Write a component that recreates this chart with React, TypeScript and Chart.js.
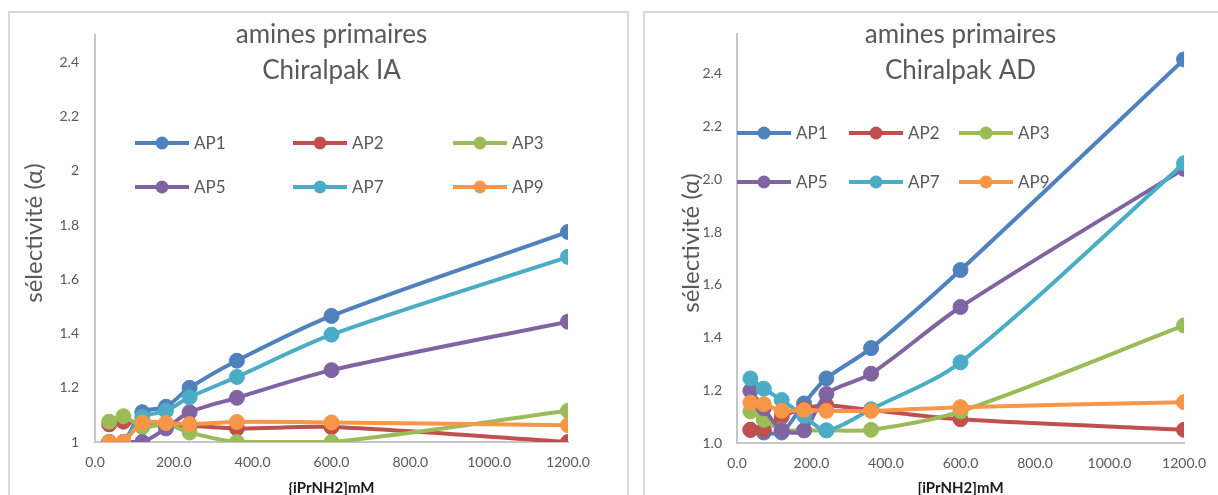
import React, { useEffect, useRef } from "react";
import { Chart, registerables } from "chart.js";

Chart.register(...registerables);

const FONT = "Lato, 'DejaVu Sans', sans-serif";

// Shared categories / x values ([iPrNH2] mM)
const xValues = [36, 72, 120, 180, 240, 360, 600, 1200];
const seriesNames = ["AP1", "AP2", "AP3", "AP5", "AP7", "AP9"];
const seriesColors = ["#4F81BD", "#C0504D", "#9BBB59", "#8064A2", "#4BACC6", "#F79646"];

// Chiralpak IA
const iaAP1 = [1.0, 1.0, 1.11, 1.13, 1.2, 1.3, 1.465, 1.775];
const iaAP2 = [1.065, 1.075, 1.065, 1.06, 1.06, 1.05, 1.055, 1.0];
const iaAP3 = [1.075, 1.095, 1.055, 1.065, 1.035, 1.0, 1.0, 1.115];
const iaAP5 = [1.0, 1.0, 1.0, 1.05, 1.11, 1.163, 1.265, 1.444];
const iaAP7 = [1.0, 1.0, 1.092, 1.115, 1.165, 1.24, 1.396, 1.683];
const iaAP9 = [1.0, 1.0, 1.072, 1.07, 1.066, 1.074, 1.072, 1.062];

// Chiralpak AD
const adAP1 = [1.05, 1.04, 1.04, 1.15, 1.245, 1.36, 1.656, 2.455];
const adAP2 = [1.05, 1.05, 1.1, 1.13, 1.142, 1.125, 1.09, 1.05];
const adAP3 = [1.12, 1.088, 1.05, 1.048, 1.048, 1.05, 1.12, 1.446];
const adAP5 = [1.198, 1.132, 1.048, 1.048, 1.186, 1.263, 1.516, 2.04];
const adAP7 = [1.245, 1.206, 1.163, 1.103, 1.048, 1.128, 1.306, 2.061];
const adAP9 = [1.153, 1.147, 1.122, 1.125, 1.122, 1.122, 1.136, 1.155];

// Tick / axis definitions
const xTickStep = 200;
const xMin = 0;
const xMax = 1200;
const yMin = 1;
const yStep = 0.2;
const iaYMax = 2.5;
const adYMax = 2.55;

const titleLinesIA = ["amines primaires", "Chiralpak IA"];
const titleLinesAD = ["amines primaires", "Chiralpak AD"];
const yTitle = "sélectivité (α)";
const xTitleIA = "{iPrNH2]mM";
const xTitleAD = "[iPrNH2]mM";

type Panel = {
  series: number[][];
  titleLines: string[];
  xTitle: string;
  yMax: number;
  yLabel: (v: number) => string;
  width: number;
  height: number;
  padTop: number;
  padRight: number;
  yAxisWidth: number;
  xAxisHeight: number;
  yTickPad: number;
  legendX: number[];
  legendY: number[];
  yTitleX: number;
  yTitleY: number;
};

function makeOverlay(p: Panel) {
  return {
    id: "overlay",
    beforeDatasetsDraw(chart: any) {
      const { ctx, chartArea } = chart;
      ctx.save();
      const cx = (chartArea.left + chartArea.right) / 2;
      ctx.fillStyle = "#595959";
      ctx.font = `26px ${FONT}`;
      ctx.textAlign = "center";
      ctx.textBaseline = "alphabetic";
      ctx.fillText(p.titleLines[0], cx, 32);
      ctx.fillText(p.titleLines[1], cx, 68);

      chart.data.datasets.forEach((ds: any, i: number) => {
        const col = i % 3;
        const row = Math.floor(i / 3);
        const x = p.legendX[col];
        const y = p.legendY[row];
        ctx.strokeStyle = ds.borderColor;
        ctx.lineWidth = 4;
        ctx.lineCap = "butt";
        ctx.beginPath();
        ctx.moveTo(x, y);
        ctx.lineTo(x + 54, y);
        ctx.stroke();
        ctx.beginPath();
        ctx.arc(x + 27, y, 6.5, 0, Math.PI * 2);
        ctx.fillStyle = ds.backgroundColor;
        ctx.fill();
        ctx.fillStyle = "#595959";
        ctx.font = `17px ${FONT}`;
        ctx.textAlign = "left";
        ctx.textBaseline = "middle";
        ctx.fillText(ds.label, x + 59, y + 1);
      });
      ctx.restore();
    },
    afterDraw(chart: any) {
      const { ctx, chartArea } = chart;
      ctx.save();
      ctx.translate(p.yTitleX, p.yTitleY);
      ctx.rotate(-Math.PI / 2);
      ctx.fillStyle = "#595959";
      ctx.font = `24px ${FONT}`;
      ctx.textAlign = "center";
      ctx.textBaseline = "middle";
      ctx.fillText(yTitle, 0, 0);
      ctx.restore();
      ctx.save();
      ctx.fillStyle = "#1a1a1a";
      ctx.font = `bold 15px ${FONT}`;
      ctx.textAlign = "center";
      ctx.textBaseline = "middle";
      ctx.fillText(p.xTitle, (chartArea.left + chartArea.right) / 2, 477);
      ctx.restore();
    },
  };
}

function ChartPanel({ p, left, top }: { p: Panel; left: number; top: number }) {
  const ref = useRef<HTMLCanvasElement | null>(null);
  useEffect(() => {
    if (!ref.current) return;
    const datasets = p.series.map((vals, i) => ({
      label: seriesNames[i],
      data: xValues.map((x, j) => ({ x, y: vals[j] })),
      borderColor: seriesColors[i],
      backgroundColor: seriesColors[i],
      pointBackgroundColor: seriesColors[i],
      pointBorderColor: seriesColors[i],
      borderWidth: 4,
      pointRadius: 7.5,
      pointBorderWidth: 1,
      tension: 0.3,
      order: seriesNames.length - i,
    }));
    const chart = new Chart(ref.current, {
      type: "line",
      data: { datasets },
      options: {
        responsive: false,
        animation: false,
        layout: { padding: { left: 0, top: p.padTop, right: p.padRight, bottom: 0 } },
        plugins: {
          legend: { display: false },
          title: { display: false },
          tooltip: { enabled: false },
        },
        scales: {
          x: {
            type: "linear",
            min: xMin,
            max: xMax,
            grid: { display: false, drawTicks: false },
            border: { display: true, color: "#c6c6c6", width: 2 },
            ticks: {
              stepSize: xTickStep,
              color: "#595959",
              font: { family: FONT, size: 14 },
              padding: 12,
              maxRotation: 0,
              autoSkip: false,
              callback: (v: any) => Number(v).toFixed(1),
            },
            afterFit: (s: any) => {
              s.height = p.xAxisHeight;
            },
          },
          y: {
            type: "linear",
            min: yMin,
            max: p.yMax,
            bounds: "data",
            grid: { display: false, drawTicks: false },
            border: { display: true, color: "#c6c6c6", width: 2 },
            ticks: {
              stepSize: yStep,
              includeBounds: false,
              autoSkip: false,
              color: "#595959",
              font: { family: FONT, size: 14 },
              padding: p.yTickPad,
              callback: (v: any) => p.yLabel(Number(v)),
            },
            afterBuildTicks: (s: any) => {
              s.ticks = s.ticks.filter((t: any) => {
                const k = (t.value - yMin) / yStep;
                return Math.abs(k - Math.round(k)) < 1e-6;
              });
            },
            afterFit: (s: any) => {
              s.width = p.yAxisWidth;
            },
          },
        },
      } as any,
      plugins: [makeOverlay(p)],
    });
    return () => chart.destroy();
  }, []);
  return (
    <canvas
      ref={ref}
      width={p.width}
      height={p.height}
      style={{ position: "absolute", left, top, width: p.width, height: p.height }}
    />
  );
}

const panelIA: Panel = {
  series: [iaAP1, iaAP2, iaAP3, iaAP5, iaAP7, iaAP9],
  titleLines: titleLinesIA,
  xTitle: xTitleIA,
  yMax: iaYMax,
  yLabel: (v) => String(Number(v.toFixed(1))),
  width: 620,
  height: 484,
  padTop: 14,
  padRight: 60,
  yAxisWidth: 87,
  xAxisHeight: 53,
  yTickPad: 16,
  legendX: [127, 285, 445],
  legendY: [132, 176],
  yTitleX: 26,
  yTitleY: 222,
};

const panelAD: Panel = {
  series: [adAP1, adAP2, adAP3, adAP5, adAP7, adAP9],
  titleLines: titleLinesAD,
  xTitle: xTitleAD,
  yMax: adYMax,
  yLabel: (v) => v.toFixed(1),
  width: 575,
  height: 484,
  padTop: 12,
  padRight: 25,
  yAxisWidth: 94,
  xAxisHeight: 52,
  yTickPad: 15,
  legendX: [94, 206, 316],
  legendY: [122, 171],
  yTitleX: 48,
  yTitleY: 232,
};

export default function App() {
  const frame: React.CSSProperties = {
    position: "absolute",
    top: 11,
    height: 484,
    border: "2px solid #d9d9d9",
    borderBottom: "none",
    boxSizing: "border-box",
    background: "#ffffff",
  };
  return (
    <div
      style={{
        position: "fixed",
        left: 0,
        top: 0,
        width: 1218,
        height: 495,
        overflow: "hidden",
        background: "#ffffff",
      }}
    >
      <div style={{ ...frame, left: 8, width: 621 }} />
      <div style={{ ...frame, left: 643, width: 620 }} />
      <ChartPanel p={panelIA} left={8} top={11} />
      <ChartPanel p={panelAD} left={643} top={11} />
    </div>
  );
}
